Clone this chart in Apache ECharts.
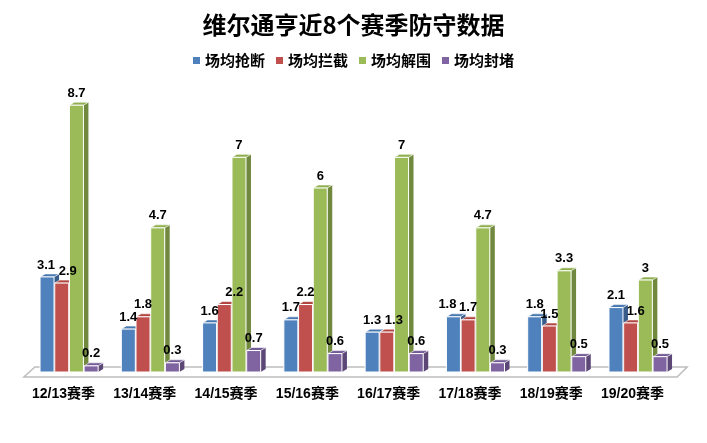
<!DOCTYPE html>
<html>
<head>
<meta charset="utf-8">
<script src="https://cdn.jsdelivr.net/npm/echarts@6/dist/echarts.min.js"></script>
<style>html,body{margin:0;padding:0;background:#fff}#c{width:707px;height:443px}</style>
</head>
<body>
<div id="c"></div>
<script>
const categories = ['12/13赛季','13/14赛季','14/15赛季','15/16赛季','16/17赛季','17/18赛季','18/19赛季','19/20赛季'];
const seriesNames = ['场均抢断','场均拦截','场均解围','场均封堵'];
const steals        = [3.1, 1.4, 1.6, 1.7, 1.3, 1.8, 1.8, 2.1];
const interceptions = [2.9, 1.8, 2.2, 2.2, 1.3, 1.7, 1.5, 1.6];
const clearances    = [8.7, 4.7, 7,   6,   7,   4.7, 3.3, 3  ];
const blocks        = [0.2, 0.3, 0.7, 0.6, 0.6, 0.3, 0.5, 0.5];
const seriesValues = [steals, interceptions, clearances, blocks];

// styling (not data)
const frontColors = ['#4F81BD','#C0504D','#9BBB59','#8064A2'];
const sideColors  = ['#385D8A','#8C3836','#71893F','#5C4776'];
const topColors   = ['#4677B0','#B0463F','#8FAF4E','#735A95'];
const labelDx = [
  [-1, 0, 0, 0, 0, -6, 0, 0],
  [6, 0, 10, 0, 7, 0, 0, 5],
  [0, 0, 0, 0, 0, 0, 0, 0],
  [0, 0, 0, 0, 0, 0, 0, 0]
];
const FONT = "'Liberation Sans','Noto Sans CJK SC',sans-serif";

function makeRender(k) {
  return function (params, api) {
    const i = api.value(0);
    const v = api.value(1);
    const bw = api.size([1, 0])[0];
    const u = bw / 81.3;
    const c = api.coord([i, v]);
    const b = api.coord([i, 0]);
    const left = c[0] - 23.5 * u + k * 14.7 * u;
    const w = 14 * u;
    const top = c[1];
    const bottom = b[1];
    const dx = 5 * u, dy = -3;
    const children = [];
    children.push({
      type: 'polygon', z2: k * 10 + 1,
      shape: { points: [[left + w, top], [left + w + dx, top + dy], [left + w + dx, bottom + dy], [left + w, bottom]] },
      style: { fill: sideColors[k] }
    });
    children.push({
      type: 'polygon', z2: k * 10 + 2,
      shape: { points: [[left, top], [left + dx, top + dy], [left + w + dx, top + dy], [left + w, top]] },
      style: { fill: topColors[k], stroke: '#ffffff', lineWidth: 0.6 }
    });
    children.push({
      type: 'rect', z2: k * 10 + 3,
      shape: { x: left, y: top, width: w, height: bottom - top },
      style: { fill: frontColors[k], stroke: '#ffffff', lineWidth: 1 }
    });
    children.push({
      type: 'text', z2: 200,
      style: {
        text: String(v),
        x: left + w / 2 + labelDx[k][i] * u,
        y: top - 12,
        align: 'center', verticalAlign: 'middle',
        fill: '#000', font: 'bold 13px ' + FONT
      }
    });
    return { type: 'group', children: children };
  };
}

const series = [];
series.push({
  type: 'custom',
  name: '_floor',
  data: [[0, 0]],
  silent: true,
  z: 1,
  renderItem: function (params, api) {
    const cs = params.coordSys;
    const L = cs.x, R = cs.x + cs.width, B = cs.y + cs.height;
    return {
      type: 'polygon',
      shape: { points: [[L + 12, B - 5], [R + 14, B - 5], [R + 4, B + 5], [L + 1, B + 5]] },
      style: { fill: '#ffffff', stroke: '#bdbdbd', lineWidth: 1.5 }
    };
  }
});
seriesValues.forEach(function (vals, k) {
  series.push({
    type: 'custom',
    name: seriesNames[k],
    z: 2,
    itemStyle: { color: frontColors[k] },
    data: vals.map(function (v, i) { return [i, v]; }),
    renderItem: makeRender(k)
  });
});

const chart = echarts.init(document.getElementById('c'), null, { renderer: 'canvas' });
chart.setOption({
  animation: false,
  backgroundColor: '#ffffff',
  title: {
    text: '维尔通亨近8个赛季防守数据',
    left: 'center', top: 8,
    textStyle: { fontFamily: "'Noto Sans CJK SC',sans-serif", fontWeight: 'bold', fontSize: 24, color: '#000' }
  },
  legend: {
    top: 48, left: 'center',
    icon: 'rect', itemWidth: 7, itemHeight: 7, itemGap: 11,
    data: seriesNames,
    textStyle: { fontFamily: "'Noto Sans CJK SC',sans-serif", fontWeight: 'bold', fontSize: 15, color: '#000' }
  },
  grid: { left: 22.9, right: 33.9, top: 96, bottom: 71 },
  xAxis: {
    type: 'category',
    data: categories,
    axisLine: { show: false },
    axisTick: { show: false },
    splitLine: { show: false },
    axisLabel: { interval: 0, margin: 15, fontWeight: 'bold', fontSize: 14, color: '#000', fontFamily: FONT }
  },
  yAxis: { type: 'value', min: 0, max: 9, show: false },
  series: series
});
</script>
</body>
</html>
